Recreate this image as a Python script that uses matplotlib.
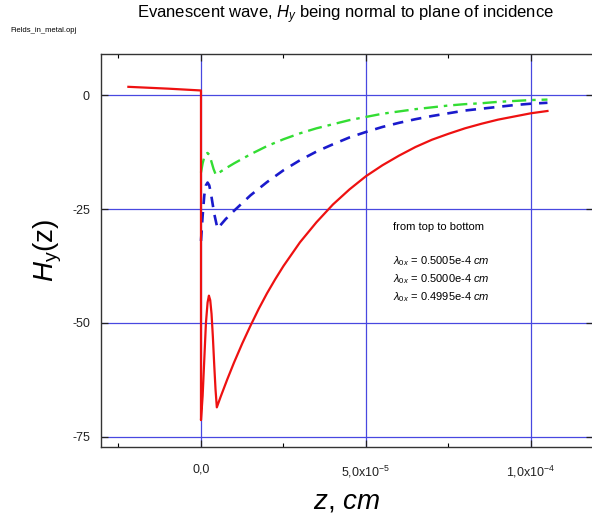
import matplotlib
matplotlib.use("Agg")
import matplotlib.pyplot as plt
from matplotlib.ticker import FixedLocator, FixedFormatter

plt.rcParams['font.family'] = ['Liberation Sans', 'DejaVu Sans']
plt.rcParams['mathtext.fontset'] = 'custom'
plt.rcParams['mathtext.rm'] = 'Liberation Sans'
plt.rcParams['mathtext.it'] = 'Liberation Sans:italic'

# z in units of 1e-5 cm
red_z = [-2.2, -1.0, 0.0, 0.0, 0.05, 0.1, 0.15, 0.2, 0.24, 0.28, 0.32, 0.36,
         0.40, 0.44, 0.48, 0.6, 0.8, 1.0, 1.25, 1.5, 1.75, 2.0, 2.25, 2.5,
         3.0, 3.5, 4.0, 4.5, 5.0, 5.5, 6.0, 6.5,
         7.0, 7.5, 8.0, 8.5, 9.0, 9.5, 10.0, 10.5]
red_h = [1.8, 1.4, 1.0, -71.3, -66.0, -58.0, -50.0, -45.5, -44.0, -45.0, -48.0, -53.0,
         -59.0, -64.5, -68.5, -66.1, -62.3, -58.7, -54.5, -50.6, -46.9, -43.5, -40.4, -37.5,
         -32.3, -27.9, -24.0, -20.7, -17.8, -15.4,
         -13.3, -11.4, -9.8, -8.5, -7.3, -6.3, -5.4, -4.7, -4.0, -3.5]

blue_z = [0.0, 0.05, 0.1, 0.15, 0.2, 0.25, 0.3, 0.4, 0.5, 0.75,
          1.0, 1.5, 2.0, 2.5, 3.0, 3.5, 4.0, 4.5, 5.0, 5.5, 6.0, 6.5,
          7.0, 7.5, 8.0, 8.5, 9.0, 9.5, 10.0, 10.5]
blue_h = [-32.0, -26.5, -22.0, -19.8, -19.2, -19.8, -21.5, -26.0, -29.3, -27.2,
          -25.4, -22.0, -19.1, -16.5, -14.3, -12.4, -10.8, -9.3, -8.1, -7.0,
          -6.1, -5.3, -4.6, -4.0, -3.4, -3.0, -2.6, -2.2, -1.9, -1.7]

green_z = [0.0, 0.05, 0.1, 0.15, 0.2, 0.25, 0.3, 0.38, 0.45, 0.7,
           1.0, 1.5, 2.0, 2.5, 3.0, 3.5, 4.0, 4.5, 5.0, 5.5, 6.0, 6.5,
           7.0, 7.5, 8.0, 8.5, 9.0, 9.5, 10.0, 10.5]
green_h = [-17.0, -15.0, -13.6, -12.9, -12.7, -13.1, -14.2, -16.2, -17.5, -16.3,
           -15.0, -13.0, -11.2, -9.7, -8.4, -7.3, -6.4, -5.5, -4.8, -4.1,
           -3.6, -3.1, -2.7, -2.3, -2.0, -1.8, -1.5, -1.3, -1.1, -1.0]

xticks = [0.0, 5e-5, 1e-4]
xticklabels = ['0,0', r'5,0x10$^{-5}$', r'1,0x10$^{-4}$']
yticks = [0, -25, -50, -75]
yticklabels = ['0', '-25', '-50', '-75']
legend_lines = ['= 0.5005e-4', '= 0.5000e-4', '= 0.4995e-4']

fig = plt.figure(figsize=(5.92, 5.13), dpi=100)
ax = fig.add_axes([101/592, 1-447/513, 492/592, (447-54)/513])

sc = 1e-5
ax.plot([z*sc for z in green_z], green_h, color='#33dd33', lw=1.7, ls=(0, (6, 2.5, 1.5, 2.5)))
ax.plot([z*sc for z in blue_z], blue_h, color='#1a1acc', lw=1.9, ls=(0, (4, 3)))
ax.plot([z*sc for z in red_z], red_h, color='#ee1111', lw=1.6)

ax.set_xlim(-3.03e-5, 11.88e-5)
ax.set_ylim(-77.2, 9.0)

ax.xaxis.set_major_locator(FixedLocator(xticks))
ax.xaxis.set_major_formatter(FixedFormatter(xticklabels))
ax.xaxis.set_minor_locator(FixedLocator([-2.5e-5, 2.5e-5, 7.5e-5]))
ax.yaxis.set_major_locator(FixedLocator(yticks))
ax.yaxis.set_major_formatter(FixedFormatter(yticklabels))

ax.grid(True, which='major', color='#4848e0', lw=0.9)
ax.set_axisbelow(True)
ax.tick_params(which='major', direction='in', length=5, width=0.9, top=True, right=True,
               labelsize=9, colors='#222222', pad=12)
ax.tick_params(which='minor', direction='in', length=3, width=0.8, top=True)
ax.tick_params(axis='y', pad=8)
for s in ax.spines.values():
    s.set_color('#333333')
    s.set_linewidth(1.0)

ax.set_xlabel(r'$z$, $cm$', fontsize=20, labelpad=6)
ax.set_ylabel(r'$H_{\mathrm{y}}$(z)', fontsize=20, labelpad=6)

fig.text(345/592, 1-15/513, r'Evanescent wave, $H_y$ being normal to plane of incidence',
         ha='center', va='center', fontsize=12)
fig.text(10/592, 1-30/513, 'Fields_in_metal.opj', ha='left', va='center', fontsize=5.5)

ax.text(393/592, 1-227/513, 'from top to bottom', transform=fig.transFigure,
        ha='left', va='center', fontsize=8)
for i, t in enumerate(legend_lines):
    ax.text(393/592, 1-(261+18*i)/513, r'$\lambda_{0x}$ ' + t + r' $cm$',
            transform=fig.transFigure, ha='left', va='center', fontsize=8)

fig.savefig('out.png', dpi=100)
